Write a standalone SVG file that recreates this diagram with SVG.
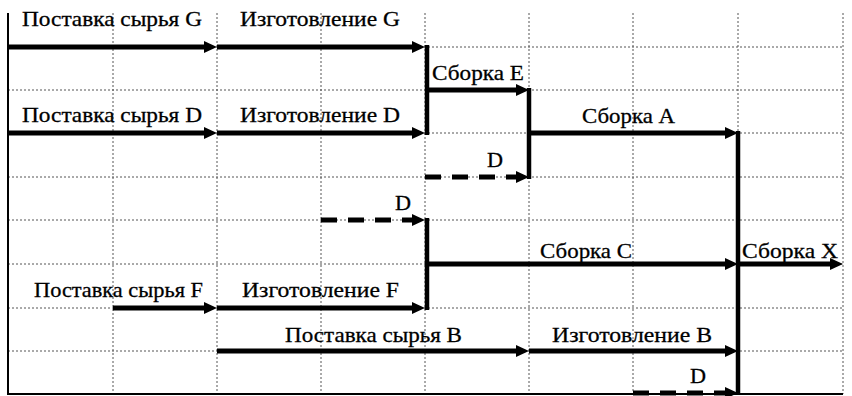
<svg xmlns="http://www.w3.org/2000/svg" width="852" height="396" viewBox="0 0 852 396">
<style>
.grid{stroke:#555;stroke-width:1;stroke-dasharray:2 2;fill:none}
.border{stroke:#000;stroke-width:2;fill:none}
.act{stroke:#000;stroke-width:5;fill:none;marker-end:url(#ah)}
.dum{stroke:#000;stroke-width:5;fill:none;stroke-dasharray:16 11;marker-end:url(#ah)}
.con{stroke:#000;stroke-width:4.5;fill:none}
text{font-family:"Liberation Serif","Times New Roman",serif;font-size:22px;fill:#000;stroke:#000;stroke-width:0.3}
</style>
<defs>
<marker id="ah" markerUnits="userSpaceOnUse" markerWidth="13" markerHeight="12" refX="5" refY="6" orient="auto" overflow="visible">
<path d="M0,0 L13,6 L0,12 z" fill="#000"/>
</marker>
</defs>
<rect width="852" height="396" fill="#fff"/>
<g id="grid">
<path class="grid" d="M113,13V394M217,13V394M321,13V394M425,13V394M529,13V394M633,13V394M738,13V394M843,13V394"/>
<path class="grid" d="M8,47H843M8,90H843M8,133H843M8,177H843M8,220H843M8,264H843M8,308H843M8,351H843"/>
<path class="border" d="M8,13V394H843"/>
</g>
<g id="connectors">
<path class="con" d="M427,45V135"/>
<path class="con" d="M529,88V179"/>
<path class="con" d="M427,218V310"/>
<path class="con" d="M738,131V395"/>
</g>
<g id="supplyG"><path class="act" d="M8,47H209"/><text x="22" y="26" textLength="180" lengthAdjust="spacingAndGlyphs">Поставка сырья G</text></g>
<g id="makeG"><path class="act" d="M217,47H417"/><text x="240" y="26" textLength="160" lengthAdjust="spacingAndGlyphs">Изготовление G</text></g>
<g id="supplyD"><path class="act" d="M8,133H209"/><text x="22" y="122" textLength="180" lengthAdjust="spacingAndGlyphs">Поставка сырья D</text></g>
<g id="makeD"><path class="act" d="M217,133H417"/><text x="240" y="122" textLength="160" lengthAdjust="spacingAndGlyphs">Изготовление D</text></g>
<g id="asmE"><path class="act" d="M427,90H521"/><text x="432" y="80" textLength="92" lengthAdjust="spacingAndGlyphs">Сборка E</text></g>
<g id="asmA"><path class="act" d="M529,133H730"/><text x="582" y="123" textLength="93" lengthAdjust="spacingAndGlyphs">Сборка A</text></g>
<g id="dummy1"><path class="dum" d="M425,177H521"/><text x="487" y="167" textLength="16" lengthAdjust="spacingAndGlyphs">D</text></g>
<g id="dummy2"><path class="dum" d="M321,220H417"/><text x="395" y="210" textLength="16" lengthAdjust="spacingAndGlyphs">D</text></g>
<g id="asmC"><path class="act" d="M427,264H730"/><text x="540" y="258" textLength="92" lengthAdjust="spacingAndGlyphs">Сборка C</text></g>
<g id="asmX"><path class="act" d="M738,264H835"/><text x="742" y="258" textLength="96" lengthAdjust="spacingAndGlyphs">Сборка X</text></g>
<g id="supplyF"><path class="act" d="M113,308H209"/><text x="34" y="297" textLength="169" lengthAdjust="spacingAndGlyphs">Поставка сырья F</text></g>
<g id="makeF"><path class="act" d="M217,308H417"/><text x="242" y="297" textLength="157" lengthAdjust="spacingAndGlyphs">Изготовление F</text></g>
<g id="supplyB"><path class="act" d="M217,351H521"/><text x="285" y="342" textLength="177" lengthAdjust="spacingAndGlyphs">Поставка сырья B</text></g>
<g id="makeB"><path class="act" d="M529,351H730"/><text x="552" y="342" textLength="160" lengthAdjust="spacingAndGlyphs">Изготовление B</text></g>
<g id="dummy3"><path class="dum" d="M633,393H730"/><text x="690" y="383" textLength="16" lengthAdjust="spacingAndGlyphs">D</text></g>
</svg>
